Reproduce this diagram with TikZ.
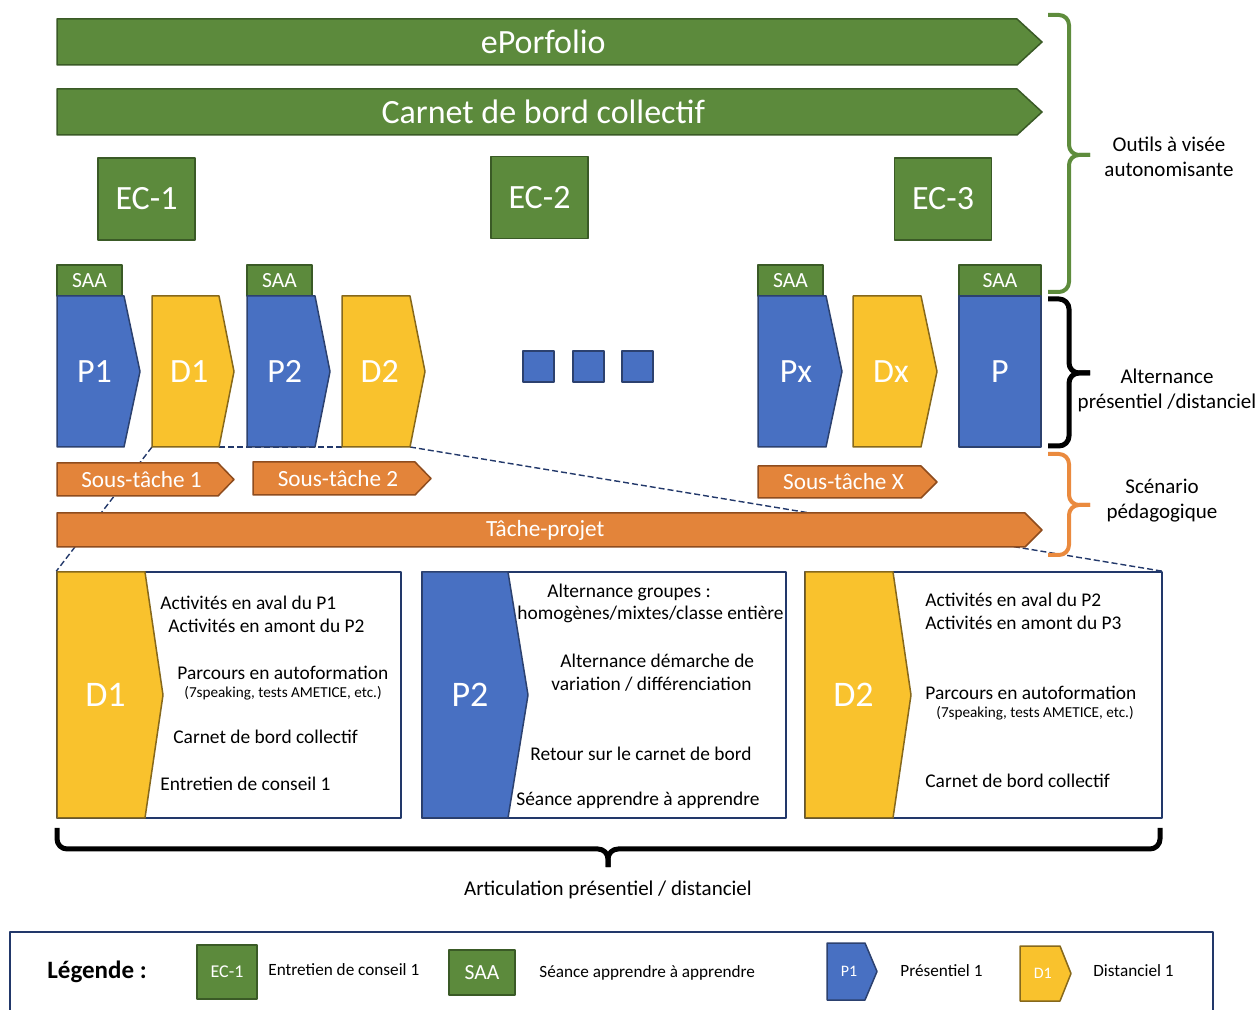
\documentclass[tikz,border=0pt]{standalone}
\usepackage{fontspec}
\setmainfont{Carlito}
\usetikzlibrary{backgrounds}

\definecolor{ecgreen}{HTML}{5C8A3C}
\definecolor{ecgreendk}{HTML}{3A5A26}
\definecolor{pblue}{HTML}{4870C2}
\definecolor{pbluedk}{HTML}{2C416F}
\definecolor{dyellow}{HTML}{F9C22D}
\definecolor{dyellowdk}{HTML}{86681C}
\definecolor{torange}{HTML}{E3843A}
\definecolor{torangedk}{HTML}{8E4C1E}
\definecolor{navyln}{HTML}{22386A}
\definecolor{bracegreen}{HTML}{5E8C3C}
\definecolor{braceorange}{HTML}{EA8A3E}

% arrow-shaped box: style, name, x1, y1, x2 (tip), y2, tip depth, text style, text
\newcommand{\pentabox}[9]{%
  \draw[#1] (#3,#4) -- ({#5-#7},#4) -- (#5,{(#4+#6)/2}) -- ({#5-#7},#6) -- (#3,#6) -- cycle;
  \coordinate (#2 nw) at (#3,#4);
  \coordinate (#2 ne) at ({#5-#7},#4);
  \coordinate (#2 sw) at (#3,#6);
  \coordinate (#2 se) at ({#5-#7},#6);
  \node[lbl,#8] (#2) at ({(#3+#5)/2-#7/4},{(#4+#6)/2}) {#9};}

\begin{document}
\begin{tikzpicture}[x=0.5pt,y=-0.5pt,line join=round]
\tikzset{
greenshape/.style={fill=ecgreen, draw=ecgreendk, line width=0.75pt},
blueshape/.style={fill=pblue, draw=pbluedk, line width=0.75pt},
yellowshape/.style={fill=dyellow, draw=dyellowdk, line width=0.75pt},
orangeshape/.style={fill=torange, draw=torangedk, line width=0.75pt},
lbl/.style={text=white, inner sep=0pt},
bigtxt/.style={font=\fontsize{17}{20}\selectfont},
hugetxt/.style={font=\fontsize{18}{21}\selectfont},
midtxt/.style={font=\fontsize{11.6}{13}\selectfont},
saatxt/.style={font=\fontsize{10.8}{12}\selectfont},
bodytxt/.style={font=\fontsize{9.7}{11}\selectfont, anchor=west, inner sep=0pt},
smalltxt/.style={font=\fontsize{7.6}{9}\selectfont, anchor=west, inner sep=0pt},
sidetxt/.style={font=\fontsize{10.5}{12.5}\selectfont, align=center},
legtxt/.style={font=\fontsize{8.6}{10}\selectfont, anchor=west, inner sep=0pt},
legsym/.style={font=\fontsize{8}{10}\selectfont},
ecbox/.style={greenshape, text=white, bigtxt, minimum width=48.5pt, minimum height=41pt, inner sep=0pt},
saabox/.style={greenshape, text=white, saatxt, minimum width=32.5pt, minimum height=15.5pt, inner sep=0pt},
detailbox/.style={draw=navyln, fill=white, line width=0.75pt, minimum width=172pt, minimum height=123pt, inner sep=0pt},
dotbox/.style={blueshape, minimum width=15.5pt, minimum height=15.5pt, inner sep=0pt},
guide/.style={navyln, dashed, dash pattern=on 3pt off 1.5pt, line width=0.7pt},
brc/.style={line width=2pt, rounded corners=5pt}
}
\useasboundingbox (0,0) rectangle (1260,1010);

% outils
\pentabox{greenshape}{portfolio}{57}{19}{1042}{65}{25}{bigtxt}{ePorfolio}
\pentabox{greenshape}{carnet}{57}{89}{1042}{135}{25}{bigtxt}{Carnet de bord collectif}
\node[ecbox] (ec1) at (146.5,199) {EC-1};
\node[ecbox] (ec2) at (539.5,197.5) {EC-2};
\node[ecbox] (ec3) at (943,199) {EC-3};

% alternance
\node[saabox] (saa1) at (89.5,280.5) {SAA};
\node[saabox] (saa2) at (279.5,280.5) {SAA};
\node[saabox] (saa3) at (790.5,280.5) {SAA};
\node[saabox, minimum width=41pt] (saa4) at (1000,280.5) {SAA};
\pentabox{blueshape}{p1}{57}{296}{140}{447}{16}{bigtxt}{P1}
\pentabox{yellowshape}{d1}{152}{296}{234}{447}{15}{bigtxt}{D1}
\pentabox{blueshape}{p2}{247}{296}{330}{447}{15}{bigtxt}{P2}
\pentabox{yellowshape}{d2}{342}{296}{425}{447}{15}{bigtxt}{D2}
\node[dotbox] (dot1) at (538.5,366.5) {};
\node[dotbox] (dot2) at (588.5,366.5) {};
\node[dotbox] (dot3) at (637.5,366.5) {};
\pentabox{blueshape}{px}{758}{296}{842}{447}{16}{bigtxt}{Px}
\pentabox{yellowshape}{dx}{853}{296}{937}{447}{16}{bigtxt}{Dx}
\node[blueshape, text=white, bigtxt, minimum width=41pt, minimum height=75.5pt, inner sep=0pt] (plast) at (1000,371.5) {P};

% scenario
\pentabox{orangeshape}{st1}{57}{463}{234}{496}{16}{midtxt}{Sous-tâche 1}
\pentabox{orangeshape}{st2}{253}{462}{431}{495}{16}{midtxt}{Sous-tâche 2}
\pentabox{orangeshape}{stx}{758}{466}{937}{498}{16}{midtxt}{Sous-tâche X}
\pentabox{orangeshape}{projet}{57}{513}{1042}{547}{17}{midtxt}{Tâche-projet}

% braces
\draw[brc, bracegreen] (1048,15) -- (1069,15) -- (1069,155) -- (1090,155);
\draw[brc, bracegreen] (1048,292) -- (1069,292) -- (1069,155) -- (1090,155);
\draw[brc, black, line width=2.5pt] (1048,299) -- (1069,299) -- (1069,373) -- (1090,373);
\draw[brc, black, line width=2.5pt] (1048,446) -- (1069,446) -- (1069,373) -- (1090,373);
\draw[brc, braceorange] (1048,454) -- (1069,454) -- (1069,505) -- (1090,505);
\draw[brc, braceorange] (1048,555) -- (1069,555) -- (1069,505) -- (1090,505);
\node[sidetxt] (outils) at (1169,157) {Outils à visée\\autonomisante};
\node[sidetxt] (altern) at (1167,390) {Alternance\\présentiel /distanciel};
\node[sidetxt] (scenar) at (1162,501) {Scénario\\pédagogique};

% details
\node[detailbox] (box1) at (229,695) {};
\node[detailbox, minimum width=182pt] (box2) at (604,695) {};
\node[detailbox, minimum width=178.5pt] (box3) at (983.5,695) {};
\pentabox{yellowshape}{bd1}{57}{572}{163}{818}{18}{hugetxt}{D1}
\pentabox{blueshape}{bp2}{422}{572}{528}{818}{20}{hugetxt}{P2}
\pentabox{yellowshape}{bd2}{805}{572}{911}{818}{18}{hugetxt}{D2}

\node[bodytxt] (a1) at (160,603) {Activités en aval du P1};
\node[bodytxt] (a2) at (168,626) {Activités en amont du P2};
\node[bodytxt] (a3) at (177,673) {Parcours en autoformation};
\node[smalltxt] (a4) at (184,693) {(7speaking, tests AMETICE, etc.)};
\node[bodytxt] (a5) at (173,737) {Carnet de bord collectif};
\node[bodytxt] (a6) at (160,784) {Entretien de conseil 1};

\node[bodytxt] (b1) at (547,592) {Alternance groupes :};
\node[bodytxt] (b2) at (517,614) {homogènes/mixtes/classe entière};
\node[bodytxt] (b3) at (560,661) {Alternance démarche de};
\node[bodytxt] (b4) at (551,684) {variation / différenciation};
\node[bodytxt] (b5) at (530,754) {Retour sur le carnet de bord};
\node[bodytxt] (b6) at (516,800) {Séance apprendre à apprendre};

\node[bodytxt] (c1) at (925,600) {Activités en aval du P2};
\node[bodytxt] (c2) at (925,623) {Activités en amont du P3};
\node[bodytxt] (c3) at (925,693) {Parcours en autoformation};
\node[smalltxt] (c4) at (936,713) {(7speaking, tests AMETICE, etc.)};
\node[bodytxt] (c5) at (925,781) {Carnet de bord collectif};

\begin{pgfonlayer}{background}
\draw[guide] (d1 sw) -- (box1.north west);
\draw[guide] (d1 se) -- (d2 sw);
\draw[guide] (d2 se) -- (box3.north east);
\end{pgfonlayer}

% articulation
\draw[brc, black, line width=2.5pt] (57,828) -- (57,849) -- (608,849) -- (608,867);
\draw[brc, black, line width=2.5pt] (1160,828) -- (1160,849) -- (608,849) -- (608,867);
\node[sidetxt] (articul) at (608,890) {Articulation présentiel / distanciel};

% legende
\draw[navyln, line width=0.75pt] (10,1014) -- (10,932) -- (1213,932) -- (1213,1014);
\node[font=\fontsize{12.5}{14}\selectfont\bfseries, anchor=west, inner sep=0pt] (legtitle) at (47,972) {Légende :};
\node[greenshape, text=white, font=\fontsize{9}{10}\selectfont, minimum width=30pt, minimum height=27pt, inner sep=0pt] (legec) at (227,972) {EC-1};
\node[legtxt] (legectxt) at (268,970) {Entretien de conseil 1};
\node[saabox, minimum width=33pt, minimum height=22.5pt] (legsaa) at (482,972.5) {SAA};
\node[legtxt] (legsaatxt) at (539,973) {Séance apprendre à apprendre};
\pentabox{blueshape}{legp}{827}{943}{877}{1000}{12}{legsym}{P1}
\node[legtxt] (legptxt) at (900,971) {Présentiel 1};
\pentabox{yellowshape}{legd}{1020}{946}{1071}{1001}{11}{legsym}{D1}
\node[legtxt] (legdtxt) at (1093,971) {Distanciel 1};
\end{tikzpicture}
\end{document}
